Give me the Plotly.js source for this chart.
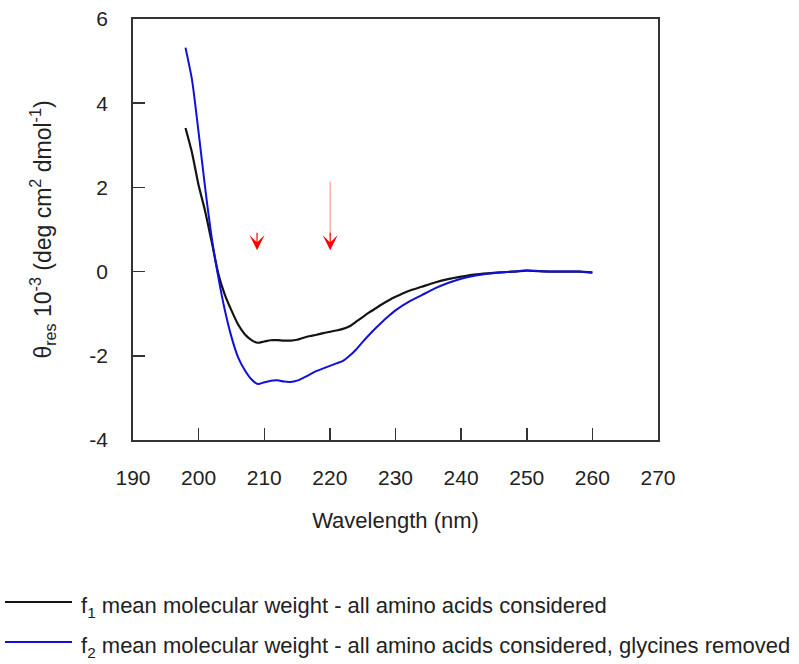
<!DOCTYPE html>
<html>
<head>
<meta charset="utf-8">
<script src="https://cdn.plot.ly/plotly-3.0.1.min.js"></script>
<style>html,body{margin:0;padding:0;background:#fff;}#chart{width:799px;height:664px;}</style>
</head>
<body>
<div id="chart"></div>
<script>
// Wavelength (nm)
const wavelength = [198,199,200,201,202,203,204,205,206,207,208,209,210,211,212,213,214,215,216,217,218,219,220,221,222,223,224,225,226,227,228,229,230,232,234,236,238,240,242,244,246,248,250,252,254,256,258,260];
// f1: mean molecular weight - all amino acids considered
const f1Values = [3.41,2.82,2.05,1.43,0.70,-0.05,-0.55,-0.92,-1.25,-1.48,-1.62,-1.69,-1.66,-1.63,-1.63,-1.64,-1.64,-1.62,-1.57,-1.53,-1.50,-1.46,-1.43,-1.40,-1.36,-1.30,-1.19,-1.08,-0.97,-0.87,-0.77,-0.68,-0.60,-0.46,-0.36,-0.26,-0.18,-0.12,-0.07,-0.04,-0.02,0.00,0.02,0.01,0.00,0.00,0.00,-0.02];
// f2: glycines removed
const f2Values = [5.32,4.55,3.30,1.98,0.80,-0.13,-0.92,-1.55,-2.03,-2.33,-2.55,-2.67,-2.63,-2.59,-2.58,-2.61,-2.62,-2.59,-2.52,-2.44,-2.36,-2.30,-2.24,-2.18,-2.12,-2.00,-1.85,-1.67,-1.50,-1.34,-1.19,-1.05,-0.92,-0.72,-0.56,-0.40,-0.27,-0.17,-0.10,-0.05,-0.02,0.00,0.03,0.01,0.00,0.00,0.00,-0.03];
const seriesNames = [
  "f<sub>1</sub> mean molecular weight - all amino acids considered",
  "f<sub>2</sub> mean molecular weight - all amino acids considered, glycines removed"
];
const seriesColors = ["#141414", "#1010d8"];
// Arrow tips (wavelength, value) and the long arrow's shaft
const arrowX = [208.9, 220.05];
const arrowTipY = [0.51, 0.51];
const shaftX = [220.05, 220.05];
const shaftY = [2.14, 0.85];
const xTicks = [190,200,210,220,230,240,250,260,270];
const yTicks = [-4,-2,0,2,4,6];
const yTickLabels = ["-4","-2","0","2","4","6"];

const FONT = "Liberation Sans, Arial, sans-serif";

const traces = [
  {x: wavelength, y: f1Values, type: "scatter", mode: "lines", name: seriesNames[0], showlegend: false,
   line: {color: seriesColors[0], width: 2.2, shape: "spline", smoothing: 0.6}},
  {x: wavelength, y: f2Values, type: "scatter", mode: "lines", name: seriesNames[1], showlegend: false,
   line: {color: seriesColors[1], width: 2, shape: "spline", smoothing: 0.6}},
  {x: shaftX, y: shaftY, type: "scatter", mode: "lines", showlegend: false, hoverinfo: "skip",
   line: {color: "#ff9a9a", width: 1.2}}
];

const annotations = arrowX.map((ax, i) => ({
  x: ax, y: arrowTipY[i], xref: "x", yref: "y", ax: 0, ay: -19,
  showarrow: true, arrowhead: 3, arrowsize: 2.1, arrowwidth: 1.2, arrowcolor: "#ff0000", text: ""
}));

// Manual legend (paper coordinates below the plot)
const legendRowsY = [-0.3848, -0.4798];
const shapes = [];
seriesNames.forEach((nm, i) => {
  shapes.push({type: "line", xref: "paper", yref: "paper", x0: -0.2438, x1: -0.1162,
               y0: legendRowsY[i], y1: legendRowsY[i], line: {color: seriesColors[i], width: 2}});
  annotations.push({xref: "paper", yref: "paper", x: -0.1029, y: legendRowsY[i] - 0.012,
                    xanchor: "left", yanchor: "middle", showarrow: false, text: nm,
                    font: {family: FONT, size: 22, color: "#222"}});
});

const layout = {
  width: 799, height: 664,
  paper_bgcolor: "#fff", plot_bgcolor: "#fff",
  font: {family: FONT, size: 21, color: "#222"},
  margin: {l: 133, r: 141, t: 19, b: 224},
  showlegend: false,
  xaxis: {range: [190, 270], tickvals: xTicks, ticks: "inside", ticklen: 12, tickwidth: 1.5, tickcolor: "#333",
          showline: true, linecolor: "#333", linewidth: 1.8, mirror: true, showgrid: false, zeroline: false,
          ticklabelstandoff: 18, tickfont: {size: 21}, automargin: false,
          title: {text: "Wavelength (nm)", standoff: 24, font: {size: 22}}},
  yaxis: {range: [-4, 6], tickvals: yTicks, ticktext: yTickLabels, ticks: "inside", ticklen: 12, tickwidth: 1.5, tickcolor: "#333",
          showline: true, linecolor: "#333", linewidth: 1.8, mirror: true, showgrid: false, zeroline: false,
          ticklabelstandoff: 19, tickfont: {size: 21}, automargin: false,
          title: {text: "θ<sub>res</sub> 10<sup>-3</sup> (deg cm<sup>2</sup> dmol<sup>-1</sup>)", standoff: 31, font: {size: 23}}},
  shapes: shapes,
  annotations: annotations
};

Plotly.newPlot("chart", traces, layout, {displayModeBar: false, staticPlot: true});
</script>
</body>
</html>
